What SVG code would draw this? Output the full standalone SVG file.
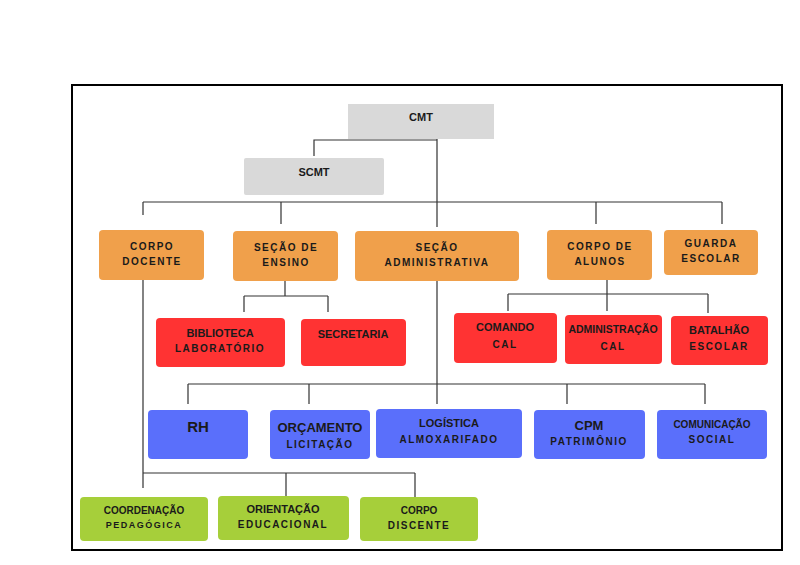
<svg xmlns="http://www.w3.org/2000/svg" width="800" height="565" viewBox="0 0 800 565">
<style>
text{font-family:"Liberation Sans",Arial,sans-serif;font-weight:bold;fill:#1a1a1a;text-anchor:middle;font-size:11px}
.s{font-size:10px;letter-spacing:1.5px}
.g{fill:#d9d9d9}.o{fill:#f0a04b}.r{fill:#ff3333}.b{fill:#5a6ffb}.v{fill:#a6cf3a}
#c path{fill:none;stroke:#333;stroke-width:1.2}
</style>
<rect width="800" height="565" fill="#fff"/>
<rect x="72" y="85" width="710" height="465" fill="none" stroke="#000" stroke-width="2"/>
<g id="c">
<path d="M437 139V227M437 140H314V156"/>
<path d="M143 202H722M143 202V215M281 202V224M596 202V224M722 202V224"/>
<path d="M285 281V296M244 296H328M244 296V312M328 296V312"/>
<path d="M607 280V311M508 294H708M508 294V311M708 294V313"/>
<path d="M437 281V404M188 384H705M188 384V404M309 384V404M567 384V404M705 384V404"/>
<path d="M143 280V488M143 473H415M286 473V497M415 473V497"/>
</g>
<g id="cmt"><rect class="g" x="348" y="104" width="146" height="35"/><text x="421" y="121">CMT</text></g>
<g id="scmt"><rect class="g" x="244" y="158" width="140" height="37" rx="2"/><text x="314" y="176">SCMT</text></g>
<g id="docente"><rect class="o" x="99" y="230" width="105" height="50" rx="4"/><text class="s" x="152" y="250">CORPO</text><text class="s" x="152" y="265">DOCENTE</text></g>
<g id="ensino"><rect class="o" x="233" y="231" width="105" height="50" rx="4"/><text class="s" x="286" y="251">SEÇÃO DE</text><text class="s" x="286" y="266">ENSINO</text></g>
<g id="adm"><rect class="o" x="355" y="231" width="164" height="50" rx="4"/><text class="s" x="437" y="251">SEÇÃO</text><text class="s" x="437" y="266">ADMINISTRATIVA</text></g>
<g id="alunos"><rect class="o" x="547" y="230" width="105" height="50" rx="4"/><text class="s" x="600" y="250">CORPO DE</text><text class="s" x="600" y="265">ALUNOS</text></g>
<g id="guarda"><rect class="o" x="664" y="230" width="94" height="45" rx="4"/><text class="s" x="711" y="247">GUARDA</text><text class="s" x="711" y="262">ESCOLAR</text></g>
<g id="biblioteca"><rect class="r" x="156" y="318" width="129" height="49" rx="4"/><text x="220" y="337">BIBLIOTECA</text><text class="s" x="220" y="352">LABORATÓRIO</text></g>
<g id="secretaria"><rect class="r" x="301" y="319" width="105" height="47" rx="4"/><text x="353" y="338">SECRETARIA</text></g>
<g id="comando"><rect class="r" x="454" y="313" width="103" height="50" rx="4"/><text x="505" y="331">COMANDO</text><text class="s" x="505" y="348">CAL</text></g>
<g id="admcal"><rect class="r" x="565" y="315" width="97" height="49" rx="4"/><text x="613" y="333" style="font-size:10.5px">ADMINISTRAÇÃO</text><text class="s" x="613" y="350">CAL</text></g>
<g id="batalhao"><rect class="r" x="671" y="316" width="97" height="49" rx="4"/><text x="719" y="334">BATALHÃO</text><text class="s" x="719" y="350">ESCOLAR</text></g>
<g id="rh"><rect class="b" x="148" y="410" width="100" height="49" rx="4"/><text x="198" y="432" style="font-size:15px">RH</text></g>
<g id="orc"><rect class="b" x="270" y="410" width="100" height="49" rx="4"/><text x="320" y="432" style="font-size:13px">ORÇAMENTO</text><text class="s" x="320" y="448">LICITAÇÃO</text></g>
<g id="log"><rect class="b" x="376" y="409" width="146" height="49" rx="4"/><text x="449" y="427">LOGÍSTICA</text><text class="s" x="449" y="443">ALMOXARIFADO</text></g>
<g id="cpm"><rect class="b" x="534" y="410" width="111" height="49" rx="4"/><text x="589" y="430" style="font-size:13px">CPM</text><text class="s" x="589" y="445">PATRIMÔNIO</text></g>
<g id="com"><rect class="b" x="657" y="410" width="110" height="49" rx="4"/><text x="712" y="428" style="font-size:10px">COMUNICAÇÃO</text><text class="s" x="712" y="443">SOCIAL</text></g>
<g id="coord"><rect class="v" x="80" y="497" width="128" height="44" rx="4"/><text x="144" y="514" style="font-size:10px">COORDENAÇÃO</text><text class="s" x="144" y="528" style="font-size:9px">PEDAGÓGICA</text></g>
<g id="orient"><rect class="v" x="218" y="496" width="131" height="44" rx="4"/><text x="283" y="513">ORIENTAÇÃO</text><text class="s" x="283" y="528">EDUCACIONAL</text></g>
<g id="discente"><rect class="v" x="360" y="497" width="118" height="44" rx="4"/><text x="419" y="514" style="font-size:10px">CORPO</text><text class="s" x="419" y="529">DISCENTE</text></g>
</svg>
